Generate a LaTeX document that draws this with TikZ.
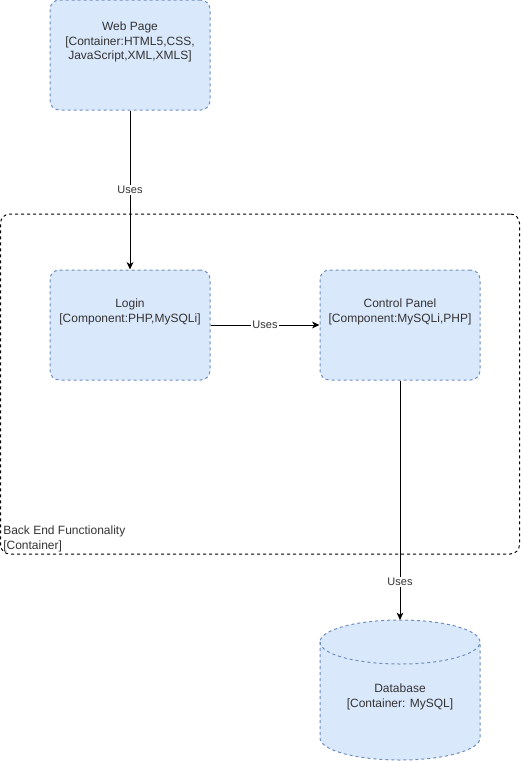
\documentclass[tikz,border=0pt]{standalone}
\usepackage{fontspec}
\setmainfont{Liberation Sans}
\usetikzlibrary{arrows.meta}
\definecolor{boxfill}{HTML}{DAE8FC}
\definecolor{boxline}{HTML}{6C8EBF}

\tikzset{compbox/.style={draw=boxline,fill=boxfill,line width=0.75pt,dash pattern=on 2.25pt off 2.25pt,rounded corners=7pt,minimum width=120pt,minimum height=82.5pt,inner sep=0pt}}
\tikzset{boxtext/.style={align=center,font=\fontsize{9}{11}\selectfont,text=black!80,inner sep=0pt}}
\tikzset{frame/.style={draw=black,line width=0.75pt,dash pattern=on 2.25pt off 2.25pt,rounded corners=7pt,minimum width=389.25pt,minimum height=255pt,inner sep=0pt}}
\tikzset{uses/.style={draw=black,line width=0.75pt,-{Stealth[length=5.5pt,width=5pt,inset=1.5pt]}}}
\tikzset{useslabel/.style={fill=white,font=\fontsize{8.25}{10}\selectfont,text=black!80,inner sep=0.75pt}}

\begin{document}
\begin{tikzpicture}[x=0.75pt,y=-0.75pt]
 		\useasboundingbox (0,0) rectangle (521,761);

 		\node[frame] (backend) at (260,384) {};
 		\node[boxtext,anchor=south west,align=left] (backendtxt) at (3,552) {Back End Functionality\\{[Container]}};

 		\node[compbox] (web) at (130,55) {};
 		\node[boxtext] (webtxt) at (130,42) {Web Page\\{[Container:HTML5,CSS,}\\JavaScript,XML,XMLS]};

 		\node[compbox] (login) at (130,325) {};
 		\node[boxtext] (logintxt) at (130,312) {Login\\{[Component:PHP,MySQLi]}};

 		\node[compbox] (panel) at (400,325) {};
 		\node[boxtext] (paneltxt) at (400,312) {Control Panel\\{[Component:MySQLi,PHP]}};

 		% database cylinder
 		\draw[draw=boxline,fill=boxfill,line width=0.75pt,dash pattern=on 2.25pt off 2.25pt]
 			(320,642) -- (320,738) arc (180:360:60pt and 16.5pt) -- (480,642) arc (0:180:60pt and 16.5pt) -- cycle;
 		\draw[draw=boxline,line width=0.75pt,dash pattern=on 2.25pt off 2.25pt]
 			(320,642) arc (180:360:60pt and 16.5pt);
 		\coordinate (dbtop) at (400,620);
 		\node[boxtext] (db) at (400,697) {Database\\{[Container: MySQL]}};

 		\draw[uses] (web) -- node[useslabel] {Uses} (login);
 		\draw[uses] (login) -- node[useslabel] {Uses} (panel);
 		\draw[uses] (panel) -- node[useslabel,pos=0.84] {Uses} (dbtop);
 	 \end{tikzpicture}
\end{document}
